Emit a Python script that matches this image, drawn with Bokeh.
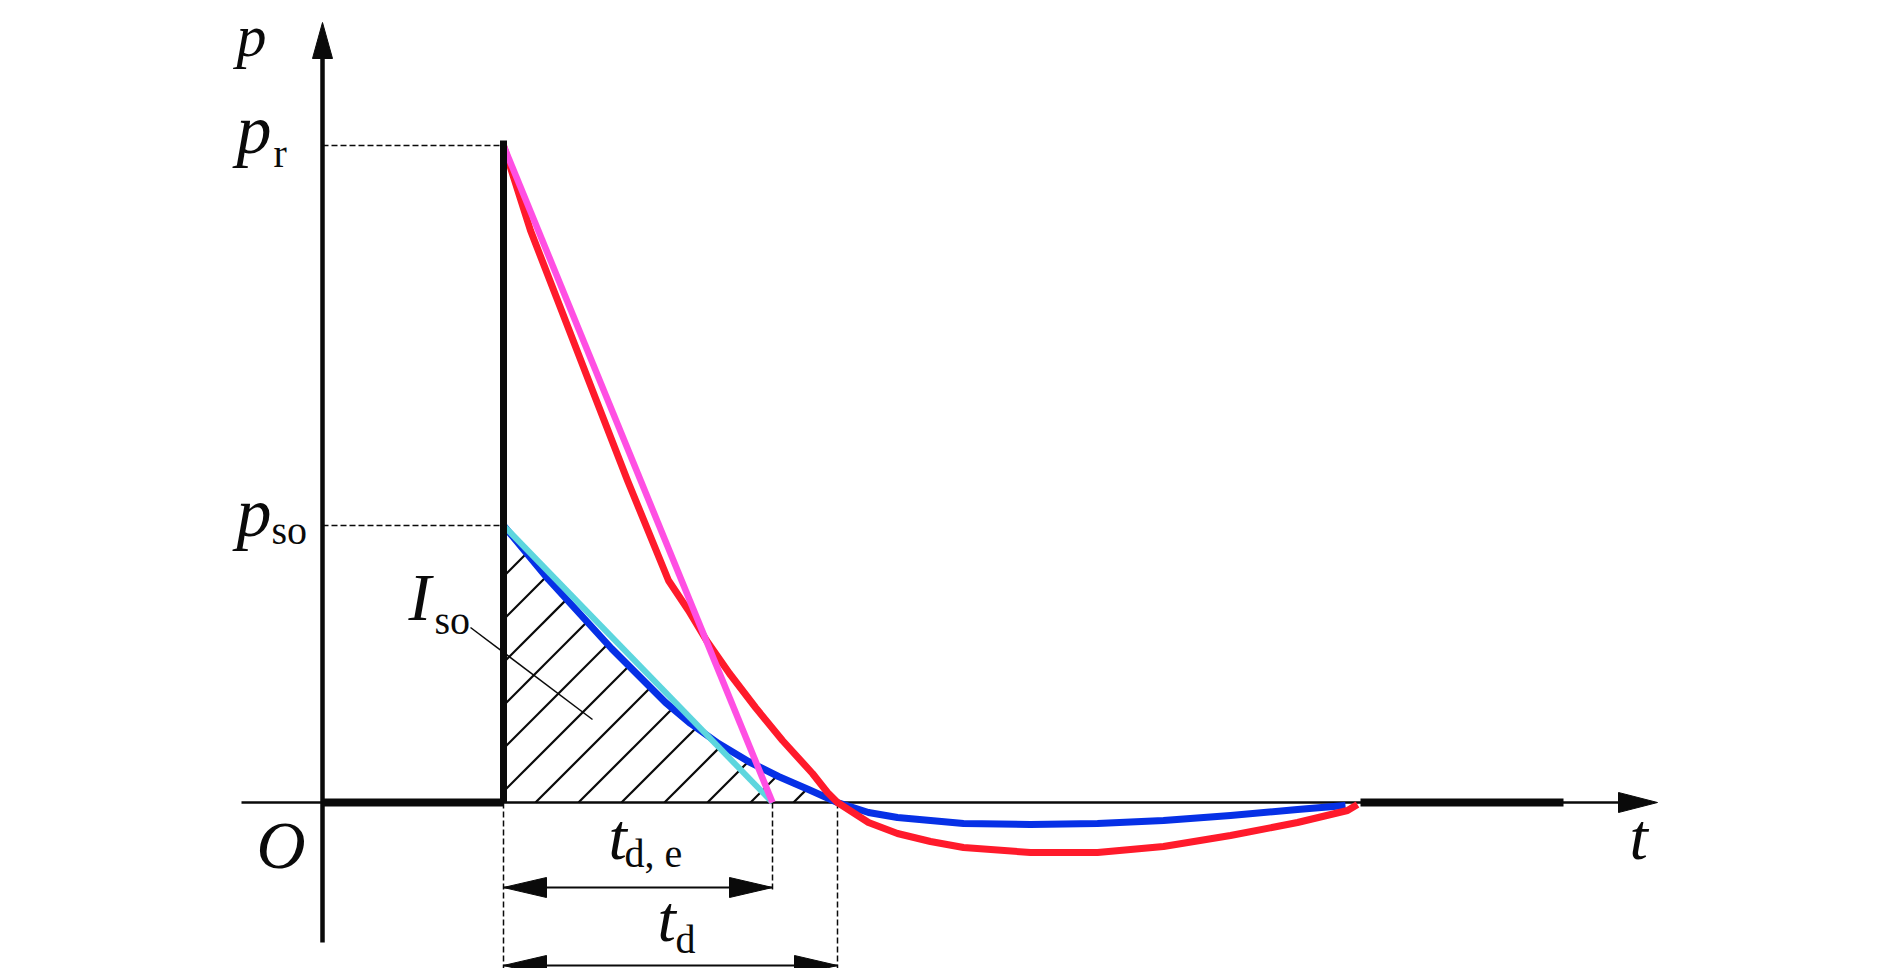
from bokeh.plotting import figure
from bokeh.models import Range1d, Label
from bokeh.embed import file_html
from bokeh.resources import INLINE

# ---------------- data (time / pressure in arbitrary units) ----------------
t_arrival = 1.81      # arrival time of the blast wave
p_r = 6.57            # peak reflected pressure
p_so = 2.77           # peak incident (side-on) pressure
t_de_end = 4.50       # end of the equivalent linear decay (t_d,e)
t_d_end = 5.15        # end of the positive phase (t_d)
t_neg_end = 10.38     # end of the negative phase
t_tail_end = 12.41    # end of the drawn baseline

# reflected pressure history (red)
red_t = [1.81, 2.08, 2.34, 2.70, 3.05, 3.46, 3.66, 3.84, 4.07, 4.33, 4.60, 4.90, 5.05, 5.15,
         5.46, 5.75, 6.08, 6.41, 7.08, 7.75, 8.41, 9.08, 9.75, 10.25, 10.35]
red_p = [6.57, 5.72, 5.05, 4.12, 3.22, 2.22, 1.92, 1.62, 1.29, 0.95, 0.62, 0.29, 0.10, 0.00,
         -0.20, -0.31, -0.39, -0.45, -0.50, -0.50, -0.44, -0.33, -0.20, -0.08, -0.02]

# incident pressure history (blue)
blue_t = [1.81, 2.26, 2.89, 3.43, 3.68, 3.96, 4.26, 4.56, 4.86, 5.15,
          5.46, 5.75, 6.08, 6.41, 7.08, 7.75, 8.41, 9.08, 9.75, 10.23]
blue_p = [2.77, 2.23, 1.54, 1.00, 0.79, 0.59, 0.41, 0.26, 0.13, 0.00,
          -0.10, -0.15, -0.18, -0.21, -0.22, -0.21, -0.18, -0.13, -0.07, -0.03]
n_pos = 10  # number of blue points in the positive phase

# equivalent linear decays
magenta_t = [t_arrival, t_de_end]
magenta_p = [p_r, 0.0]
cyan_t = [t_arrival, t_de_end]
cyan_p = [p_so, 0.0]

# ---------------- layout (data units: 1 unit = 100 px) ----------------
X_RANGE = (-3.22, 15.52)
Y_RANGE = (-1.66, 8.02)
YAXIS_BOTTOM, YAXIS_TOP, YAXIS_TIP = -1.40, 7.44, 7.80
XAXIS_LEFT, XAXIS_RIGHT, XAXIS_TIP = -0.81, 12.96, 13.35
ROW_TDE, ROW_TD = -0.85, -1.63
DASH_TDE_BOTTOM, DASH_BOTTOM = -0.90, -1.70
HEAD_LEN, HEAD_HALF = 0.43, 0.10
HATCH_STEP, HATCH_PHASE = 0.43, 2.13

RED = "#FF1A2B"
MAGENTA = "#FF4FE3"
BLUE = "#0630E6"
CYAN = "#5DD6DE"
BLACK = "#0A0A0A"
SERIF = "Liberation Serif"

p = figure(width=1874, height=968, output_backend="svg", toolbar_location=None,
           x_range=Range1d(*X_RANGE), y_range=Range1d(*Y_RANGE),
           x_axis_location=None, y_axis_location=None, min_border=0)
p.grid.visible = False
p.outline_line_color = None
p.background_fill_color = "white"
p.border_fill_color = "white"

# ---- 45 degree hatching of the impulse area under the incident curve ----
pos_t, pos_p = blue_t[:n_pos], blue_p[:n_pos]
cs = []
c = HATCH_PHASE
while c - HATCH_STEP > t_arrival - p_so:
    c -= HATCH_STEP
while c < t_d_end:
    cs.append(c)
    c += HATCH_STEP
hx0, hy0, hx1, hy1 = [], [], [], []
for c in cs:
    if c >= t_arrival:
        lx, ly = c, 0.0
    else:
        lx, ly = t_arrival, t_arrival - c
    ux = uy = None
    for i in range(len(pos_t) - 1):
        t0, q0, t1, q1 = pos_t[i], pos_p[i], pos_t[i + 1], pos_p[i + 1]
        f0 = q0 - (t0 - c)
        f1 = q1 - (t1 - c)
        if f0 > 0 and f1 <= 0:
            s = f0 / (f0 - f1)
            ux, uy = t0 + s * (t1 - t0), q0 + s * (q1 - q0)
            break
    if ux is None or ux <= lx:
        continue
    hx0.append(lx); hy0.append(ly); hx1.append(ux); hy1.append(uy)
p.segment(x0=hx0, y0=hy0, x1=hx1, y1=hy1, line_color=BLACK, line_width=2.2)

# thin axes
p.line([0, 0], [YAXIS_BOTTOM, YAXIS_TOP], line_color=BLACK, line_width=4.5)
p.line([XAXIS_LEFT, XAXIS_RIGHT], [0, 0], line_color=BLACK, line_width=2.5)

# dashed guides
p.segment(x0=[0, 0], y0=[p_r, p_so], x1=[t_arrival, t_arrival], y1=[p_r, p_so],
          line_color=BLACK, line_width=1.5, line_dash="6 3")
p.segment(x0=[t_arrival, t_de_end, t_d_end], y0=[0, 0, 0],
          x1=[t_arrival, t_de_end, t_d_end], y1=[DASH_BOTTOM, DASH_TDE_BOTTOM, DASH_BOTTOM],
          line_color=BLACK, line_width=1.5, line_dash="6 3")

# curves
p.line(blue_t, blue_p, line_color=BLUE, line_width=7, line_join="round")
p.line(cyan_t, cyan_p, line_color=CYAN, line_width=6)
p.line(red_t, red_p, line_color=RED, line_width=7, line_join="round")
p.line(magenta_t, magenta_p, line_color=MAGENTA, line_width=6.5)

# thick black pressure baseline and jump
p.line([0, t_arrival], [0, 0], line_color=BLACK, line_width=8)
p.line([t_arrival, t_arrival], [0, p_r + 0.05], line_color=BLACK, line_width=7)
p.line([t_neg_end, t_tail_end], [0, 0], line_color=BLACK, line_width=8)

# dimension arrows
p.segment(x0=[t_arrival, t_arrival], y0=[ROW_TDE, ROW_TD], x1=[t_de_end, t_d_end],
          y1=[ROW_TDE, ROW_TD], line_color=BLACK, line_width=2)


def head(tx, ty, dx, dy, length, half):
    bx, by = tx - dx * length, ty - dy * length
    px, py = -dy * half, dx * half
    return [tx, bx + px, bx - px], [ty, by + py, by - py]


heads = [
    head(0, YAXIS_TIP, 0, 1, 0.36, 0.10),
    head(XAXIS_TIP, 0, 1, 0, 0.39, 0.10),
    head(t_arrival, ROW_TDE, -1, 0, HEAD_LEN, HEAD_HALF),
    head(t_de_end, ROW_TDE, 1, 0, HEAD_LEN, HEAD_HALF),
    head(t_arrival, ROW_TD, -1, 0, HEAD_LEN, HEAD_HALF),
    head(t_d_end, ROW_TD, 1, 0, HEAD_LEN, HEAD_HALF),
]
p.patches(xs=[h[0] for h in heads], ys=[h[1] for h in heads],
          fill_color=BLACK, line_color=BLACK, line_width=1)

# leader line for I_so
p.line([1.48, 2.70], [1.75, 0.83], line_color=BLACK, line_width=1.5)


def lab(x, y, text, italic, size):
    # y is the wanted baseline; the svg text is centred on its anchor, so lift by 0.34 em
    p.add_layout(Label(x=x, y=y + 0.34 * size / 100.0, text=text, text_font=SERIF,
                       text_font_style="italic" if italic else "normal",
                       text_font_size=f"{size}px", text_color=BLACK,
                       text_baseline="alphabetic", text_align="left"))


SUB = 40
lab(-0.86, 7.46, "p", True, 60)
lab(-0.86, 6.49, "p", True, 70)
lab(-0.49, 6.35, "r", False, SUB)
lab(-0.86, 2.66, "p", True, 70)
lab(-0.51, 2.58, "so", False, SUB)
lab(0.86, 1.82, "I", True, 68)
lab(1.12, 1.68, "so", False, SUB)
lab(-0.66, -0.66, "O", True, 68)
lab(13.07, -0.56, "t", True, 66)
lab(2.86, -0.56, "t", True, 66)
lab(3.02, -0.65, "d, e", False, SUB)
lab(3.35, -1.38, "t", True, 66)
lab(3.53, -1.51, "d", False, SUB)

open("out.html", "w").write(file_html(p, INLINE))
